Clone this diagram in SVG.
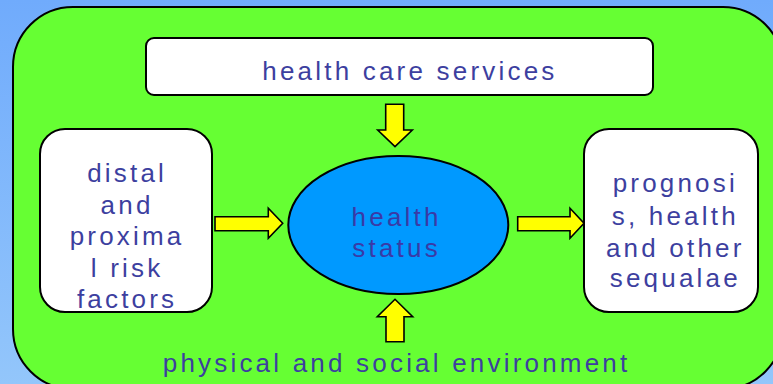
<svg xmlns="http://www.w3.org/2000/svg" width="773" height="384" viewBox="0 0 773 384">
<defs>
<linearGradient id="bg" x1="0" y1="0" x2="0" y2="1">
<stop offset="0" stop-color="#70abfc"/>
<stop offset="1" stop-color="#93c6fb"/>
</linearGradient>
<style>
.box{fill:#ffffff;stroke:#000;stroke-width:2}
.arr{fill:#ffff00;stroke:#000;stroke-width:1.6;stroke-linejoin:miter}
.t{font-family:"Liberation Sans",Arial,sans-serif;font-size:26px;fill:#3d3f9f;letter-spacing:3.2px;text-anchor:middle}
</style>
</defs>
<rect x="0" y="0" width="773" height="384" fill="url(#bg)"/>
<g id="environment">
<rect x="13" y="7" width="770" height="382" rx="60" ry="60" fill="#66ff33" stroke="#000" stroke-width="2"/>
<text class="t" x="396.6" y="372">physical and social environment</text>
</g>
<g id="health-care-services">
<rect class="box" x="146" y="38" width="507" height="57" rx="8" ry="8"/>
<text class="t" x="409.9" y="80">health care services</text>
</g>
<g id="risk-factors">
<rect class="box" x="40" y="129" width="172" height="183" rx="25" ry="25"/>
<text class="t" x="127.1" y="182">distal</text>
<text class="t" x="127.1" y="213.5">and</text>
<text class="t" x="127.1" y="245">proxima</text>
<text class="t" x="127.1" y="276.5">l risk</text>
<text class="t" x="127.1" y="308">factors</text>
</g>
<g id="health-status">
<ellipse cx="398.3" cy="225" rx="110" ry="69" fill="#0099ff" stroke="#000" stroke-width="2"/>
<text class="t" x="396.6" y="226" style="fill:#3a3aa6">health</text>
<text class="t" x="396.6" y="256.5" style="fill:#3a3aa6">status</text>
</g>
<g id="prognosis">
<rect class="box" x="584" y="129" width="174" height="183" rx="25" ry="25"/>
<text class="t" x="675.3" y="192">prognosi</text>
<text class="t" x="675.3" y="224.5">s, health</text>
<text class="t" x="675.3" y="256.5">and other</text>
<text class="t" x="675.3" y="287">sequalae</text>
</g>
<g id="connectors">
<polygon class="arr" points="385.7,104.3 403.7,104.3 403.7,130 412.3,130 395,146.7 377.7,130 385.7,130"/>
<polygon class="arr" points="386,341.7 404,341.7 404,316.7 412.7,316.7 395,299.3 377.3,316.7 386,316.7"/>
<polygon class="arr" points="215,216.7 268.3,216.7 268.3,208.3 282.7,223.3 268.3,238.3 268.3,230.7 215,230.7"/>
<polygon class="arr" points="517.7,216.7 570,216.7 570,208.3 584,223.3 570,238.3 570,230.7 517.7,230.7"/>
</g>
</svg>
